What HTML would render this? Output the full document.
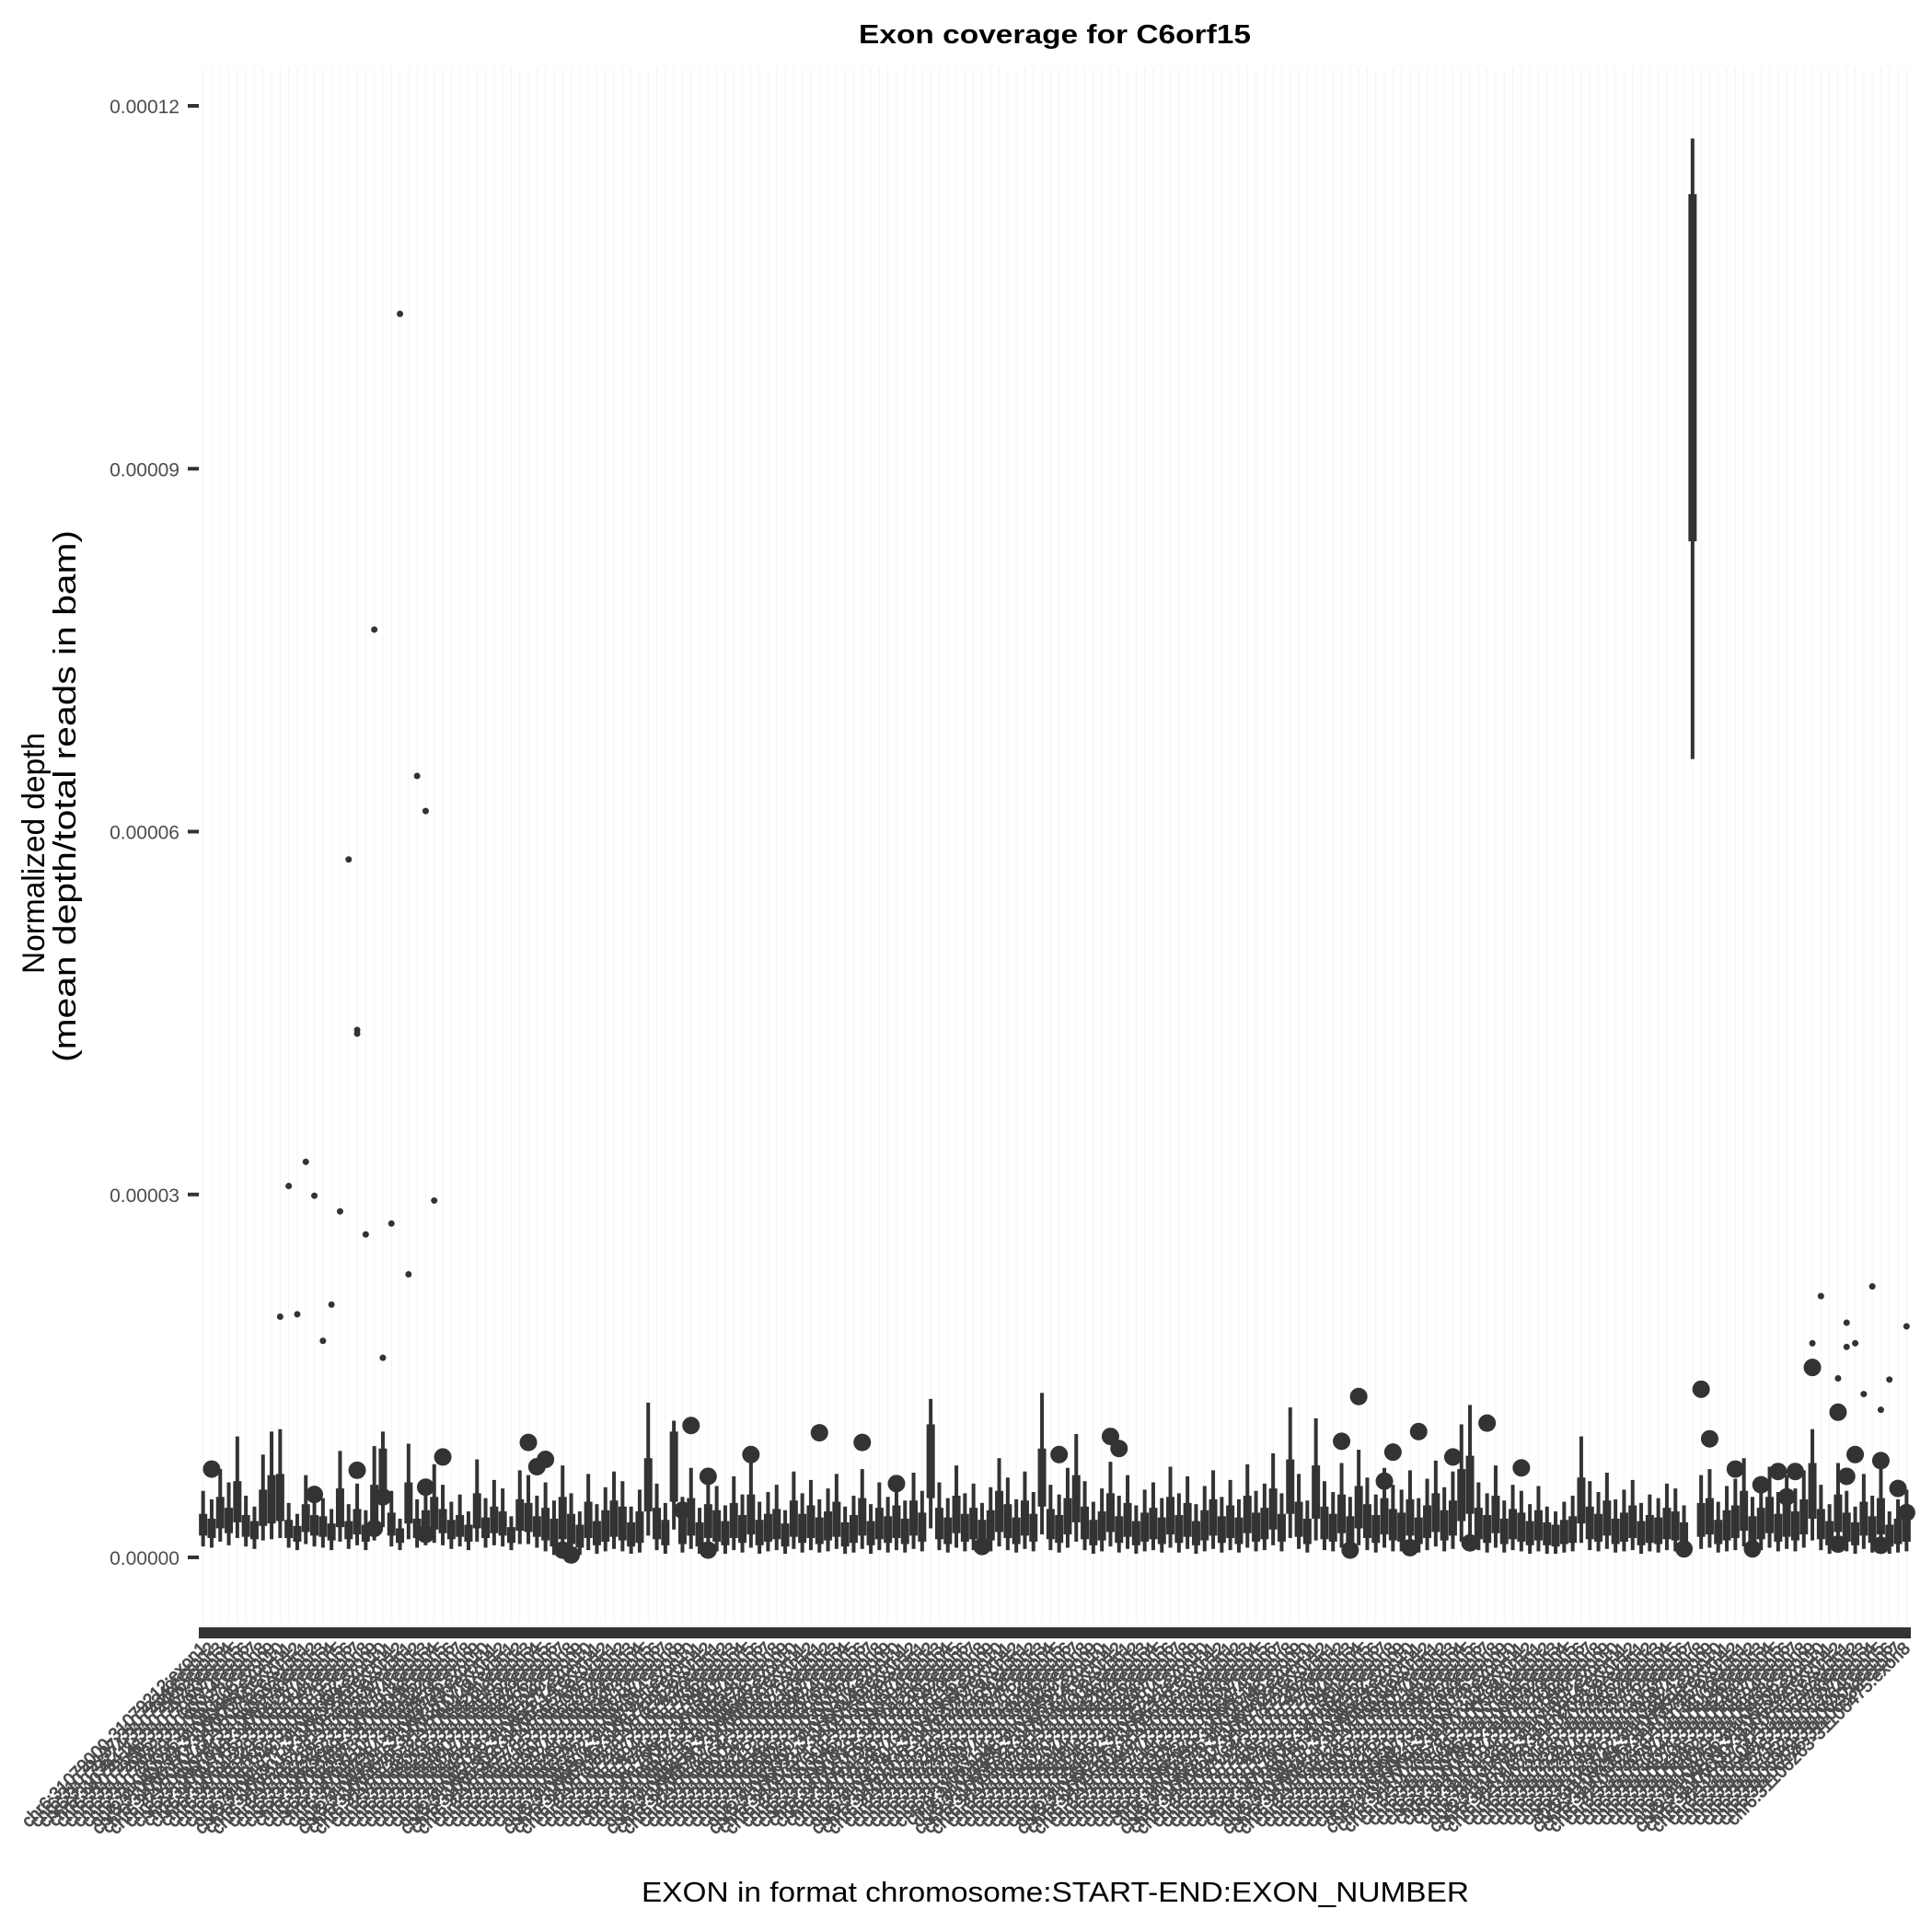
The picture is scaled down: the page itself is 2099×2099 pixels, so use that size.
<!DOCTYPE html>
<html><head><meta charset="utf-8"><title>Exon coverage for C6orf15</title>
<style>html,body{margin:0;padding:0;background:#fff}svg{display:block}</style></head>
<body>
<svg id="chart" xmlns="http://www.w3.org/2000/svg" width="2099" height="2099" viewBox="0 0 2099 2099" font-family="Liberation Sans, Arial, sans-serif">
<rect x="0" y="0" width="2099" height="2099" fill="#fff"/>
<g id="grid"></g>
<text x="1146" y="47" text-anchor="middle" font-size="29" font-weight="bold" fill="#000" textLength="426" lengthAdjust="spacingAndGlyphs">Exon coverage for C6orf15</text>
<g id="yaxis"></g>
<text transform="translate(48,1058) rotate(-90)" font-size="34" fill="#000" textLength="262" lengthAdjust="spacingAndGlyphs">Normalized depth</text>
<text transform="translate(82,1154) rotate(-90)" font-size="34" fill="#000" textLength="578" lengthAdjust="spacingAndGlyphs">(mean depth/total reads in bam)</text>
<g id="marks"></g>
<rect x="216" y="1768" width="1860" height="12" fill="#333"/>
<g id="xlabels"></g>
<text x="697" y="2066" font-size="31" fill="#000" textLength="899" lengthAdjust="spacingAndGlyphs">EXON in format chromosome:START-END:EXON_NUMBER</text>
</svg>
<script>
// values in units of 1e-6 normalized depth
const yTicks = [0, 30, 60, 90, 120];
const yTickLabels = ["0.00000", "0.00003", "0.00006", "0.00009", "0.00012"];
const whiskerHigh = [5.5,4.8,7.3,6.2,10,5.1,4.2,8.5,10.4,10.6,4.5,3.6,6.8,5.2,4.9,4.0,8.8,4.4,6.1,3.9,
9.2,10.4,5.5,3.2,9.4,4.8,5.9,7.7,6.0,4.6,5.2,3.8,8.1,4.9,6.4,5.7,3.4,7.2,6.8,5.1,
6.2,4.7,7.6,5.3,3.8,6.9,4.4,5.8,7.1,6.3,4.2,5.6,12.8,6.1,4.5,11.3,5.0,7.4,4.1,6.6,
5.9,4.3,6.7,5.2,7.8,4.6,5.4,6.0,3.9,7.1,5.3,6.4,4.8,5.7,6.9,4.2,5.1,7.3,4.4,6.2,
5.0,6.5,4.7,7.0,5.5,13.1,6.2,4.9,7.6,5.3,6.1,4.5,5.8,8.2,6.6,4.8,7.1,5.4,13.6,6.0,
5.2,7.4,10.2,6.3,4.6,5.7,7.9,5.1,6.8,4.3,5.6,6.2,4.9,7.5,5.3,6.7,4.4,5.9,7.2,5.0,
6.4,4.8,7.7,5.5,6.1,8.6,5.3,12.4,6.9,4.7,11.5,6.3,5.4,7.8,5.0,8.9,6.6,5.2,7.4,6.0,
5.6,7.2,4.9,6.5,8.0,5.8,7.1,11.0,12.6,6.2,5.3,7.6,4.7,6.0,5.5,4.4,5.9,4.2,3.8,4.6,
5.1,10.0,6.3,5.4,7.0,4.8,5.6,6.4,4.5,5.2,4.9,6.1,5.7,4.3,117.3,6.8,7.3,4.6,5.9,6.5,
8.2,5.0,6.2,7.5,5.4,6.8,5.7,7.2,10.6,6.0,4.4,7.8,5.5,4.2,6.9,5.1,7.4,3.8,4.8,5.6];
const q3 = [3.6,3.2,5.0,4.1,6.3,3.5,3.0,5.6,6.8,6.9,3.1,2.6,4.4,3.5,3.4,2.8,5.7,3.0,4.0,2.7,
6.0,9.0,3.7,2.4,6.2,3.2,3.9,5.0,4.0,3.1,3.5,2.7,5.3,3.3,4.2,3.8,2.5,4.8,4.5,3.4,
4.1,3.2,5.0,3.6,2.7,4.6,3.0,3.9,4.7,4.2,2.9,3.8,8.2,4.1,3.1,10.4,3.4,4.9,2.9,4.4,
3.9,3.0,4.5,3.5,5.2,3.1,3.6,4.0,2.8,4.7,3.6,4.3,3.3,3.8,4.6,2.9,3.5,4.9,3.0,4.1,
3.4,4.3,3.2,4.7,3.7,11.0,4.1,3.3,5.1,3.6,4.1,3.1,3.9,5.5,4.4,3.3,4.7,3.6,9.0,4.0,
3.5,4.9,6.8,4.2,3.1,3.8,5.3,3.4,4.5,3.0,3.7,4.1,3.3,5.0,3.5,4.5,3.0,3.9,4.8,3.4,
4.3,3.3,5.1,3.7,4.1,5.7,3.6,8.1,4.6,3.2,7.6,4.2,3.6,5.2,3.4,5.9,4.4,3.5,4.9,4.0,
3.7,4.8,3.3,4.3,5.3,3.9,4.7,7.3,8.4,4.1,3.5,5.1,3.2,4.0,3.7,3.0,3.9,2.9,2.7,3.1,
3.4,6.6,4.2,3.6,4.7,3.2,3.7,4.3,3.0,3.5,3.3,4.1,3.8,2.9,112.7,4.5,4.9,3.1,3.9,4.3,
5.5,3.4,4.1,5.0,3.6,4.5,3.8,4.8,7.8,4.0,3.0,5.2,3.7,2.9,4.6,3.4,4.9,2.7,3.2,3.7];
const q1 = [1.8,1.6,2.4,2.0,2.9,1.7,1.5,2.6,2.8,3.0,1.6,1.3,2.1,1.8,1.7,1.4,2.5,1.5,1.9,1.3,
2.6,4.5,1.8,1.2,2.8,1.6,1.9,2.3,2.0,1.5,1.7,1.3,2.4,1.6,2.0,1.8,1.2,2.2,2.1,1.7,
1.4,0.9,1.5,1.1,0.8,1.6,1.0,1.3,1.7,1.4,0.9,1.2,3.8,1.5,1.0,4.6,1.1,1.8,0.9,1.6,
1.3,1.0,1.6,1.2,1.9,1.0,1.3,1.5,0.9,1.7,1.2,1.6,1.1,1.4,1.7,0.9,1.2,1.8,1.0,1.5,
1.2,1.6,1.1,1.8,1.3,4.9,1.5,1.1,2.0,1.3,1.5,1.0,1.4,2.1,1.6,1.1,1.8,1.3,4.2,1.5,
1.2,1.9,2.9,1.5,1.0,1.4,2.1,1.2,1.7,1.0,1.3,1.5,1.1,1.9,1.2,1.7,1.0,1.4,1.8,1.2,
1.6,1.1,2.0,1.3,1.5,2.3,1.3,3.6,1.7,1.1,3.2,1.5,1.3,2.0,1.2,2.4,1.6,1.2,1.9,1.4,
1.3,1.8,1.1,1.6,2.1,1.4,1.8,3.0,3.6,1.5,1.2,2.0,1.1,1.5,1.3,1.0,1.4,1.0,0.9,1.1,
1.2,2.8,1.5,1.3,1.8,1.1,1.3,1.6,1.0,1.2,1.1,1.5,1.4,1.0,84,1.7,1.9,1.1,1.4,1.6,
2.2,1.2,1.5,2.0,1.3,1.7,1.4,1.9,3.2,1.5,1.0,2.1,1.3,1.0,1.8,1.2,1.9,0.9,1.1,1.3];
const whiskerLow = [0.9,0.8,1.3,1.0,1.6,0.9,0.7,1.4,1.5,1.6,0.8,0.6,1.1,0.9,0.8,0.6,1.3,0.7,1.0,0.6,
1.4,2.5,0.9,0.6,1.5,0.8,1.0,1.2,1.0,0.7,0.9,0.6,1.3,0.8,1.0,0.9,0.6,1.1,1.1,0.8,
0.5,0.2,0.6,0.4,0.2,0.6,0.3,0.5,0.7,0.5,0.3,0.4,1.8,0.6,0.3,2.3,0.4,0.7,0.3,0.6,
0.5,0.3,0.6,0.4,0.8,0.3,0.5,0.6,0.3,0.7,0.4,0.6,0.4,0.5,0.7,0.3,0.4,0.7,0.3,0.6,
0.4,0.6,0.4,0.7,0.5,2.4,0.6,0.4,0.8,0.5,0.6,0.3,0.5,0.9,0.6,0.4,0.7,0.5,1.9,0.6,
0.4,0.8,1.3,0.6,0.3,0.5,0.9,0.4,0.7,0.3,0.5,0.6,0.4,0.8,0.4,0.7,0.3,0.5,0.7,0.4,
0.6,0.4,0.8,0.5,0.6,1.0,0.5,1.6,0.7,0.4,1.4,0.6,0.5,0.8,0.4,1.0,0.6,0.4,0.8,0.5,
0.5,0.7,0.4,0.6,0.9,0.5,0.7,1.3,1.6,0.6,0.4,0.8,0.4,0.6,0.5,0.3,0.5,0.3,0.3,0.4,
0.5,1.2,0.6,0.5,0.7,0.4,0.5,0.6,0.3,0.5,0.4,0.6,0.5,0.3,66,0.7,0.8,0.4,0.5,0.6,
0.9,0.5,0.6,0.8,0.5,0.7,0.5,0.8,1.4,0.6,0.3,0.9,0.5,0.3,0.7,0.4,0.8,0.3,0.4,0.5];
const bigOutlierIdx = [1,13,18,20,21,26,26,28,38,39,40,42,43,56,57,59,59,64,72,77,81,91,100,106,107,133,134,135,138,139,141,142,146,148,150,154,173,175,176,179,181,182,184,185,186,188,191,191,192,193,196,196,198,199];
const bigOutlierVal = [7.3,5.2,7.2,2.4,5.0,1.9,5.8,8.3,9.5,7.5,8.1,0.6,0.2,3.9,10.9,6.7,0.6,8.5,10.3,9.5,6.1,0.9,8.5,10.0,9.0,9.6,0.6,13.3,6.3,8.7,0.8,10.4,8.3,1.2,11.1,7.4,0.7,13.9,9.8,7.3,0.7,6.0,7.1,5.0,7.1,15.7,12.0,1.1,6.7,8.5,8.0,1.0,5.7,3.7];
const smallOutlierIdx = [9,10,11,12,13,14,15,16,17,18,18,19,20,21,22,23,24,25,26,27,188,189,191,192,192,193,194,195,196,197,199];
const smallOutlierVal = [19.9,30.7,20.1,32.7,29.9,17.9,20.9,28.6,57.7,43.6,43.3,26.7,76.7,16.5,27.6,102.8,23.4,64.6,61.7,29.5,17.7,21.6,14.8,19.4,17.4,17.7,13.5,22.4,12.2,14.7,19.1];
const nCat = whiskerHigh.length;
const categories = [];
for (let i = 0; i < nCat; i++) {
  const s = 31079000 + i * 137;
  categories.push("chr6:" + s + "-" + (s + 212) + ":exon" + ((i % 12) + 1));
}

const NS = "http://www.w3.org/2000/svg";
const X0 = 216, X1 = 2076, Y0 = 1692, PX_PER = 394.25 / 30;
const step = (X1 - X0) / nCat;
function xScale(i) { return X0 + step * (i + 0.5); }
function yScale(v) { return Y0 - v * PX_PER; }
function mk(tag, attrs, parent) {
  const e = document.createElementNS(NS, tag);
  for (const k in attrs) e.setAttribute(k, attrs[k]);
  parent.appendChild(e);
  return e;
}
const grid = document.getElementById("grid");
const yaxis = document.getElementById("yaxis");
const marks = document.getElementById("marks");
const xlabels = document.getElementById("xlabels");

for (let i = 0; i < nCat; i++) {
  const g = mk("line", {x1: xScale(i), x2: xScale(i), y1: 74, y2: 1762, stroke: "#f3f3f3", "stroke-width": 1}, grid);
  
  
}
yTicks.forEach((t, k) => {
  const tk = mk("line", {x1: 204, x2: 216, y1: yScale(t), y2: yScale(t), stroke: "#333", "stroke-width": 4}, yaxis);
  
  
  const lb = mk("text", {x: 195, y: yScale(t) + 8, "text-anchor": "end", "font-size": 21, fill: "#4d4d4d"}, yaxis);
  lb.textContent = yTickLabels[k];
  
  
});

for (let i = 0; i < nCat; i++) {
  const cx = xScale(i);
  const w = mk("rect", {x: cx - 2, y: yScale(whiskerHigh[i]), width: 4, height: Math.max(1, yScale(whiskerLow[i]) - yScale(whiskerHigh[i])), fill: "#333"}, marks);
  
  
  const b = mk("rect", {x: cx - 4.5, y: yScale(q3[i]), width: 9, height: Math.max(1, yScale(q1[i]) - yScale(q3[i])), fill: "#333"}, marks);
  
  
}
bigOutlierIdx.forEach((ci, k) => {
  const c = mk("circle", {cx: xScale(ci), cy: yScale(bigOutlierVal[k]), r: 9.5, fill: "#333"}, marks);
  
  
});
smallOutlierIdx.forEach((ci, k) => {
  const c = mk("circle", {cx: xScale(ci), cy: yScale(smallOutlierVal[k]), r: 3.5, fill: "#333"}, marks);
  
  
});
categories.forEach((lab, i) => {
  const t = mk("text", {transform: "translate(" + (xScale(i) + 5) + ",1792) rotate(-45)", "text-anchor": "end", "font-size": 19, fill: "#4d4d4d", stroke: "#4d4d4d", "stroke-width": 0.9}, xlabels);
  t.textContent = lab;
  
  
});
</script>
</body></html>
